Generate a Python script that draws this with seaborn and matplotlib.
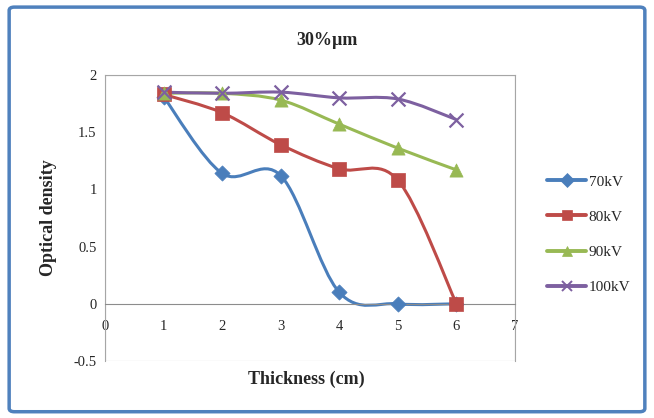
import numpy as np
import pandas as pd
import matplotlib
matplotlib.use("Agg")
import matplotlib.pyplot as plt
from matplotlib.path import Path
from matplotlib.patches import PathPatch, FancyBboxPatch, Rectangle
from matplotlib.lines import Line2D
import seaborn as sns

thickness = [1, 2, 3, 4, 5, 6]
od_70kv = [1.81, 1.14, 1.12, 0.10, 0.00, 0.00]
od_80kv = [1.83, 1.67, 1.39, 1.18, 1.08, 0.00]
od_90kv = [1.84, 1.84, 1.78, 1.57, 1.36, 1.17]
od_100kv = [1.85, 1.84, 1.85, 1.80, 1.79, 1.61]
series_names = ["70kV", "80kV", "90kV", "100kV"]

df = pd.DataFrame({
    "Thickness": thickness * 4,
    "OD": od_70kv + od_80kv + od_90kv + od_100kv,
    "Series": [n for n in series_names for _ in thickness],
})

colors = {"70kV": "#4A7EBB", "80kV": "#BE4B48", "90kV": "#98B954", "100kV": "#7D60A0"}
markers = {"70kV": "D", "80kV": "s", "90kV": "^", "100kV": "x"}
msizes = {"70kV": 60, "80kV": 95, "90kV": 90, "100kV": 100}


def smooth_path(xs, ys):
    # Excel-style smoothed line: cubic Bezier through each point
    p = np.column_stack([xs, ys]).astype(float)
    n = len(p)
    verts = [p[0]]
    codes = [Path.MOVETO]
    for i in range(n - 1):
        p0 = p[i - 1] if i > 0 else p[i]
        p3 = p[i + 2] if i + 2 < n else p[i + 1]
        c1 = p[i] + (p[i + 1] - p0) / 6
        c2 = p[i + 1] - (p3 - p[i]) / 6
        verts += [c1, c2, p[i + 1]]
        codes += [Path.CURVE4] * 3
    return Path(verts, codes)


sns.set_style("white")
plt.rcParams["font.family"] = ["Liberation Serif", "DejaVu Serif"]

fig = plt.figure(figsize=(6.54, 4.18), dpi=100)
fig.patches.append(FancyBboxPatch((0.014, 0.015), 0.972, 0.968,
                                  boxstyle="round,pad=0,rounding_size=0.008",
                                  transform=fig.transFigure, fill=False,
                                  edgecolor="#4F81BD", linewidth=2.5))

ax = fig.add_axes([0.1606, 0.1364, 0.6269, 0.6842])

for name in series_names:
    sub = df[df["Series"] == name]
    ax.add_patch(PathPatch(smooth_path(sub["Thickness"], sub["OD"]), fill=False,
                           edgecolor=colors[name], linewidth=2.2, zorder=2))
    if name == "100kV":
        sns.scatterplot(data=sub, x="Thickness", y="OD", ax=ax, color=colors[name],
                        marker="x", s=msizes[name], linewidth=1.6, zorder=3,
                        legend=False)
    else:
        sns.scatterplot(data=sub, x="Thickness", y="OD", ax=ax, color=colors[name],
                        marker=markers[name], s=msizes[name], edgecolor=colors[name],
                        linewidth=0.5, zorder=3, legend=False)

ax.set_xlim(0, 7)
ax.set_ylim(-0.5, 2)
ax.set_xticks(range(0, 8))
ax.set_yticks([-0.5, 0, 0.5, 1, 1.5, 2])
ax.set_yticklabels(["-0.5", "0", "0.5", "1", "1.5", "2"])

for s in ["top", "right", "left"]:
    ax.spines[s].set_color("#A6A6A6")
    ax.spines[s].set_linewidth(0.8)
ax.spines["bottom"].set_position(("data", 0))
ax.spines["bottom"].set_color("#8C8C8C")
ax.spines["bottom"].set_linewidth(0.8)
ax.add_patch(Rectangle((0, 0), 1, 1, transform=ax.transAxes, fill=False,
                       edgecolor="#A6A6A6", linewidth=0.8, zorder=0))
ax.tick_params(axis="both", labelsize=10.5, length=0)
ax.tick_params(axis="x", pad=12)
ax.tick_params(axis="y", pad=6)

ax.set_xlabel("")
ax.set_ylabel("Optical density", fontsize=13, fontweight="bold", labelpad=12)
fig.text(0.468, 0.093, "Thickness (cm)", ha="center", va="center",
         fontsize=13, fontweight="bold")
fig.text(0.5, 0.902, "30%\u00b5m", ha="center", va="center",
         fontsize=13, fontweight="bold")

handles = []
for name in series_names:
    mw = 1.4 if name == "100kV" else 0.5
    handles.append(Line2D([], [], color=colors[name], linewidth=2.8,
                          marker=markers[name], markersize=7,
                          markeredgecolor=colors[name], markeredgewidth=mw))
fig.legend(handles, series_names, loc="center left", bbox_to_anchor=(0.815, 0.439),
           frameon=False, fontsize=11, handlelength=2.6, labelspacing=1.4,
           handletextpad=0.15)

fig.savefig("out.png", dpi=100)
